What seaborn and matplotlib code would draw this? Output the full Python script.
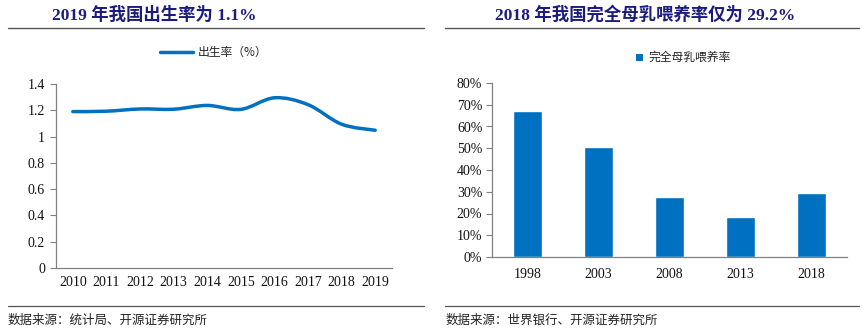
import numpy as np
import pandas as pd
import matplotlib
matplotlib.use("Agg")
import matplotlib.pyplot as plt
from matplotlib.path import Path
from matplotlib.patches import PathPatch
from matplotlib.lines import Line2D
from matplotlib.ticker import FuncFormatter, FixedLocator
import seaborn as sns

sns.set_theme(style="white")
plt.rcParams["font.family"] = ["Liberation Serif", "Noto Sans CJK SC", "DejaVu Sans"]

# Birth rate (%), 2010-2019
birth_years = ["2010", "2011", "2012", "2013", "2014", "2015", "2016", "2017", "2018", "2019"]
birth_rate = [1.190, 1.193, 1.210, 1.208, 1.237, 1.207, 1.295, 1.243, 1.094, 1.048]

# Exclusive breastfeeding rate (%)
bf_years = ["1998", "2003", "2008", "2013", "2018"]
bf_rate = [67.0, 50.8, 27.6, 18.6, 29.2]

title_left = "2019 年我国出生率为 1.1%"
title_right = "2018 年我国完全母乳喂养率仅为 29.2%"
legend_left = "出生率（%）"
legend_right = "完全母乳喂养率"
source_left = "数据来源：统计局、开源证券研究所"
source_right = "数据来源：世界银行、开源证券研究所"

BLUE = "#0070C0"
NAVY = "#1B1B80"
AXIS = "#808080"
TEXT = "#111111"
CJK = ["Noto Sans CJK SC", "DejaVu Sans"]
MIXED = ["Liberation Serif", "Noto Sans CJK SC", "DejaVu Sans"]

fig = plt.figure(figsize=(8.64, 3.33), dpi=100)
W, H = 864, 333


def fx(px):
    return px / W


def fy(py):
    return 1 - py / H


# ---- headers and footers ----
fig.text(fx(52), fy(15), title_left, family=MIXED, fontsize=12.5, fontweight="bold",
         color=NAVY, va="center", ha="left")
fig.text(fx(495), fy(15), title_right, family=MIXED, fontsize=12.5, fontweight="bold",
         color=NAVY, va="center", ha="left")
for x0, x1 in [(8, 424), (445, 859)]:
    fig.add_artist(Line2D([fx(x0), fx(x1)], [fy(28), fy(28)], color="#555555", lw=1.0))
    fig.add_artist(Line2D([fx(x0), fx(x1)], [fy(306), fy(306)], color="#555555", lw=0.9))
fig.text(fx(8), fy(320), source_left, family=CJK, fontsize=9, color="#222222", va="center")
fig.text(fx(446), fy(320), source_right, family=CJK, fontsize=9, color="#222222", va="center")

# ---- left: birth rate line ----
ax1 = fig.add_axes([fx(56), fy(268), fx(392) - fx(56), fy(84) - fy(268)])
df1 = pd.DataFrame({"year": birth_years, "rate": birth_rate})
df1["pos"] = np.arange(len(df1))
sns.lineplot(data=df1, x="pos", y="rate", ax=ax1, color=BLUE, lw=2.5)

# smooth the series with Catmull-Rom Bezier segments through the data points
line = ax1.lines[0]
pts = np.column_stack([df1["pos"].to_numpy(float), df1["rate"].to_numpy(float)])
line.remove()
verts = [tuple(pts[0])]
codes = [Path.MOVETO]
n = len(pts)
for i in range(n - 1):
    p0 = pts[max(i - 1, 0)]
    p1 = pts[i]
    p2 = pts[i + 1]
    p3 = pts[min(i + 2, n - 1)]
    c1 = p1 + (p2 - p0) / 6
    c2 = p2 - (p3 - p1) / 6
    verts += [tuple(c1), tuple(c2), tuple(p2)]
    codes += [Path.CURVE4] * 3
ax1.add_patch(PathPatch(Path(verts, codes), fill=False, edgecolor=BLUE, lw=2.5,
                        capstyle="round", joinstyle="round"))

ax1.set_xlim(-0.5, len(birth_years) - 0.5)
ax1.set_ylim(0, 1.4)
ax1.set_yticks(np.arange(0, 1.41, 0.2))
ax1.yaxis.set_major_formatter(FuncFormatter(lambda v, _: f"{v:g}"))
ax1.set_xticks(np.arange(len(birth_years)))
ax1.set_xticklabels(birth_years)
ax1.xaxis.set_minor_locator(FixedLocator(np.arange(0.5, len(birth_years), 1.0)))
ax1.tick_params(axis="x", which="major", length=0, labelsize=10, colors=TEXT, pad=6)
ax1.tick_params(axis="x", which="minor", length=4, direction="in", color=AXIS, width=0.8)
ax1.tick_params(axis="y", which="major", length=4, direction="out", color=AXIS,
                width=0.8, labelsize=10, labelcolor=TEXT, pad=4, left=True)
ax1.set_xlabel("")
ax1.set_ylabel("")
for s in ["top", "right"]:
    ax1.spines[s].set_visible(False)
for s in ["left", "bottom"]:
    ax1.spines[s].set_color(AXIS)
    ax1.spines[s].set_linewidth(0.9)

fig.add_artist(Line2D([fx(160), fx(193)], [fy(52), fy(52)], color=BLUE, lw=2.5))
fig.text(fx(198), fy(52), legend_left, family=CJK, fontsize=8.5, color="#222222", va="center")

# ---- right: breastfeeding bars ----
ax2 = fig.add_axes([fx(492), fy(257), fx(847) - fx(492), fy(83) - fy(257)])
df2 = pd.DataFrame({"year": bf_years, "rate": bf_rate})
sns.barplot(data=df2, x="year", y="rate", ax=ax2, color=BLUE, saturation=1, width=0.4)
ax2.set_xlim(-0.5, len(bf_years) - 0.5)
ax2.set_ylim(0, 80)
ax2.set_yticks(np.arange(0, 81, 10))
ax2.yaxis.set_major_formatter(FuncFormatter(lambda v, _: f"{v:.0f}%"))
ax2.xaxis.set_minor_locator(FixedLocator(np.arange(0.5, len(bf_years), 1.0)))
ax2.tick_params(axis="x", which="major", length=0, labelsize=10, colors=TEXT, pad=8)
ax2.tick_params(axis="x", which="minor", length=3, direction="out", color=AXIS, width=0.8)
ax2.tick_params(axis="y", which="major", length=4, direction="out", color=AXIS,
                width=0.8, labelsize=10, labelcolor=TEXT, pad=3, left=True)
ax2.set_xlabel("")
ax2.set_ylabel("")
for s in ["top", "right"]:
    ax2.spines[s].set_visible(False)
for s in ["left", "bottom"]:
    ax2.spines[s].set_color(AXIS)
    ax2.spines[s].set_linewidth(0.9)

fig.patches.append(plt.Rectangle((fx(636), fy(61)), fx(7), 7 / H, transform=fig.transFigure,
                                 facecolor=BLUE, edgecolor="none"))
fig.text(fx(648), fy(57), legend_right, family=CJK, fontsize=8.5, color="#222222", va="center")

fig.savefig("out.png", dpi=100, facecolor="white")
